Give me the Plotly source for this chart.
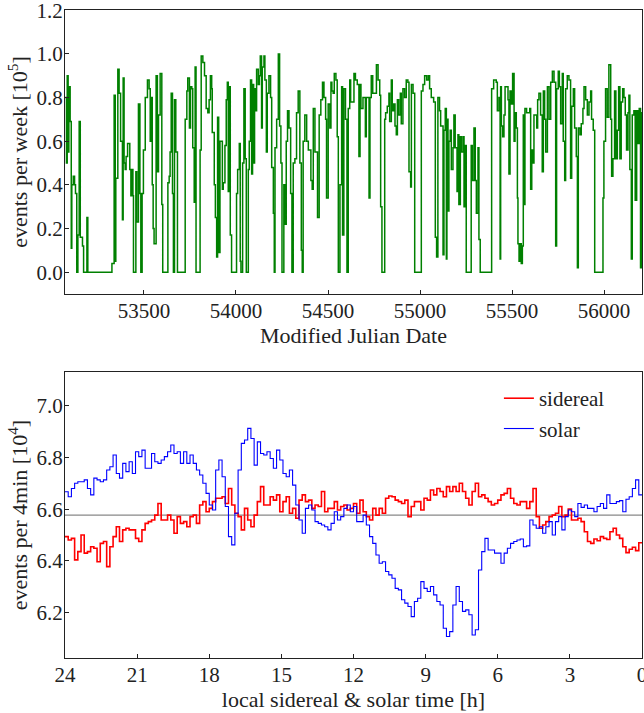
import plotly.graph_objects as go

# ---------------- top panel: weekly event rate vs MJD (step series) ----------------
mjd = [53072, 53079, 53083, 53088, 53092, 53099, 53105, 53108, 53116, 53123,
       53128, 53135, 53141, 53148, 53154, 53166, 53172, 53190, 53195, 53326,
       53338, 53344, 53347, 53358, 53365, 53373, 53383, 53387, 53392, 53398,
       53403, 53411, 53423, 53429, 53434, 53440, 53443, 53456, 53461, 53470,
       53478, 53483, 53490, 53497, 53507, 53519, 53528, 53534, 53539, 53545,
       53550, 53555, 53566, 53573, 53579, 53588, 53597, 53602, 53630, 53637,
       53642, 53648, 53655, 53660, 53666, 53673, 53682, 53724, 53733, 53738,
       53747, 53753, 53760, 53765, 53773, 53778, 53783, 53805, 53811, 53820,
       53829, 53838, 53847, 53854, 53861,
       53868, 53871, 53882, 53888, 53895, 53900, 53906, 53913, 53926, 53931,
       53940, 53947, 53953, 53958, 53964, 53969, 53976, 54003, 54009, 54018,
       54023, 54027, 54036, 54043, 54050, 54056, 54067, 54072, 54079, 54085,
       54090, 54096, 54101, 54107, 54112, 54121, 54127, 54132, 54139, 54143,
       54152, 54157, 54165, 54170, 54179, 54188, 54194, 54203, 54208, 54212,
       54221, 54230, 54237, 54244, 54250, 54260, 54266, 54273, 54280, 54288,
       54297, 54304, 54311, 54320, 54329, 54338, 54347, 54355, 54360, 54365,
       54374, 54384, 54393, 54407, 54414, 54420, 54429, 54443, 54452, 54461,
       54470, 54478, 54487, 54492, 54501, 54510, 54516, 54521, 54528, 54534,
       54543, 54550, 54556, 54565, 54574, 54579, 54586, 54595, 54603, 54610,
       54618, 54623, 54641, 54649, 54659, 54668, 54674, 54679, 54690, 54703,
       54708, 54723, 54728, 54735, 54743, 54763, 54772, 54781, 54786, 54793,
       54808, 54813, 54822, 54831, 54835, 54844, 54849, 54857, 54864, 54871,
       54877, 54884, 54893, 54898, 54907, 54916, 54925, 54934, 54940, 54949,
       54953, 54962, 54971, 55007, 55016, 55025, 55036, 55045, 55052, 55061,
       55074, 55083, 55090, 55097, 55106, 55112, 55125, 55130, 55137, 55143,
       55146, 55152, 55157, 55164, 55170, 55179, 55184, 55191, 55201, 55206,
       55211, 55219, 55224, 55233, 55239, 55246, 55251, 55278, 55284, 55293,
       55300, 55306, 55315, 55320, 55327, 55389, 55400, 55414,
       55420, 55429, 55435, 55438, 55442, 55449, 55456, 55462, 55478, 55483,
       55489, 55496, 55503, 55511, 55516, 55523, 55529, 55532, 55538, 55543,
       55550, 55556, 55561, 55567, 55570, 55579, 55596, 55601, 55607, 55612,
       55619, 55634, 55639, 55646, 55655, 55664, 55670, 55677, 55683, 55692,
       55701, 55710, 55719, 55728, 55737, 55742, 55751, 55757, 55764, 55773,
       55778, 55786, 55791, 55800, 55809, 55818, 55824, 55833, 55840, 55849,
       55855, 55860, 55869, 55876, 55885, 55891, 55900, 55909, 55918, 55927,
       55932, 55941, 55949, 55994, 55999, 56008, 56017, 56026, 56036, 56041,
       56048, 56057, 56064, 56072, 56079, 56086, 56093, 56101, 56108, 56115,
       56122, 56130, 56135, 56140, 56148, 56153, 56162, 56169, 56177, 56184,
       56191, 56198, 56202]
rate = [0.80, 0.50, 0.90, 0.55, 0.85, 0.69, 0.11, 0.40, 0.44, 0.40,
        0.36, 0.00, 0.17, 0.69, 0.16, 0.12, 0.00, 0.25, 0.00, 0.04,
        0.81, 0.05, 0.43, 0.93, 0.82, 0.60, 0.24, 0.89, 0.50, 0.47,
        0.53, 0.59, 0.47, 0.35, 0.47, 0.35, 0.00, 0.46, 0.23, 0.77,
        0.36, 0.00, 0.36, 0.56, 0.80, 0.88, 0.84, 0.60, 0.80, 0.40,
        0.20, 0.13, 0.90, 0.46, 0.72, 0.91, 0.31, 0.00, 0.41, 0.44,
        0.55, 0.82, 0.36, 0.00, 0.79, 0.55, 0.00, 0.70, 0.83, 0.89,
        0.66, 0.85, 0.84, 0.57, 0.32, 0.94, 0.00, 0.56, 0.99, 0.96,
        0.90, 0.75, 0.73, 0.79, 0.90,
        0.84, 0.64, 0.40, 0.25, 0.07, 0.71, 0.09, 0.60, 0.38, 0.41,
        0.58, 0.79, 0.87, 0.37, 0.85, 0.17, 0.00, 0.36, 0.47, 0.59,
        0.05, 0.00, 0.50, 0.84, 0.52, 0.00, 0.47, 0.60, 0.88, 0.45,
        0.86, 0.50, 0.84, 0.74, 0.93, 0.86, 0.90, 0.99, 0.66, 0.94,
        0.99, 0.88, 0.55, 0.82, 0.90, 0.80, 0.48, 0.27, 0.00, 0.57,
        0.70, 1.00, 0.67, 0.50, 0.00, 0.40, 0.22, 0.60, 0.74, 0.66,
        0.36, 0.00, 0.50, 0.52, 0.73, 0.83, 0.50, 0.10, 0.00, 0.60,
        0.72, 0.60, 0.56, 0.42, 0.38, 0.75, 0.55, 0.25, 0.72, 0.79,
        0.87, 0.80, 0.70, 0.34, 0.77, 0.66, 0.87, 0.83, 0.82, 0.91,
        0.88, 0.62, 0.00, 0.40, 0.85, 0.17, 0.84, 0.70, 0.00, 0.75,
        0.88, 0.78, 0.91, 0.88, 0.86, 0.53, 0.86, 0.75, 0.80, 0.62,
        0.80, 0.34, 0.80, 0.90, 0.82, 0.95, 0.88, 0.81, 0.30, 0.00,
        0.70, 0.73, 0.76, 0.82, 0.69, 0.88, 0.74, 0.77, 0.67, 0.63,
        0.79, 0.72, 0.82, 0.68, 0.84, 0.80, 0.88, 0.87, 0.46, 0.39,
        0.86, 0.82, 0.00, 0.83, 0.86, 0.90, 0.88, 0.90, 0.84, 0.80,
        0.78, 0.16, 0.07, 0.80, 0.74, 0.67, 0.08, 0.65, 0.75, 0.06,
        0.70, 0.28, 0.60, 0.65, 0.47, 0.57, 0.72, 0.57, 0.37, 0.63,
        0.31, 0.62, 0.55, 0.62, 0.30, 0.58, 0.00, 0.58, 0.42, 0.66,
        0.42, 0.27, 0.57, 0.15, 0.00, 0.84, 0.88, 0.87,
        0.74, 0.80, 0.06, 0.85, 0.67, 0.62, 0.72, 0.85, 0.79, 0.45,
        0.83, 0.77, 0.91, 0.60, 0.73, 0.66, 0.34, 0.13, 0.05, 0.13,
        0.04, 0.12, 0.72, 0.31, 0.75, 0.73, 0.75, 0.38, 0.56, 0.50,
        0.72, 0.66, 0.79, 0.82, 0.72, 0.46, 0.83, 0.70, 0.55, 0.85,
        0.70, 0.87, 0.92, 0.87, 0.12, 0.84, 0.92, 0.85, 0.68, 0.91,
        0.60, 0.42, 0.84, 0.90, 0.88, 0.43, 0.76, 0.84, 0.66, 0.53,
        0.02, 0.66, 0.63, 0.68, 0.75, 0.85, 0.79, 0.72, 0.78, 0.83,
        0.70, 0.65, 0.00, 0.34, 0.60, 0.84, 0.71, 0.95, 0.70, 0.44,
        0.52, 0.83, 0.52, 0.65, 0.85, 0.52, 0.78, 0.84, 0.80, 0.72,
        0.56, 0.73, 0.81, 0.47, 0.06, 0.72, 0.74, 0.33, 0.74, 0.59,
        0.75, 0.02, 0.73]
mjd_end = 56210

# ---------------- bottom panel: 8-min bins over 24 h, read left (24 h) to right (0 h) ----------------
solar = [6.667, 6.648, 6.680, 6.700, 6.706, 6.706, 6.713, 6.680, 6.655, 6.720,
         6.713, 6.706, 6.713, 6.751, 6.764, 6.809, 6.738, 6.720, 6.777, 6.745,
         6.783, 6.738, 6.822, 6.803, 6.828, 6.758, 6.758, 6.815, 6.783, 6.777,
         6.790, 6.803, 6.822, 6.848, 6.815, 6.822, 6.777, 6.822, 6.777, 6.809,
         6.777, 6.751, 6.732, 6.700, 6.661,
         6.616, 6.597, 6.751, 6.790, 6.725, 6.610, 6.494, 6.462, 6.584, 6.751,
         6.854, 6.867, 6.912, 6.873, 6.770, 6.860, 6.815, 6.809, 6.822, 6.796,
         6.758, 6.828, 6.790, 6.738, 6.725, 6.751, 6.693, 6.616, 6.558, 6.507,
         6.603, 6.616, 6.597, 6.552, 6.545, 6.539, 6.532, 6.520, 6.545, 6.590,
         6.558, 6.571, 6.603, 6.616, 6.590,
         6.610, 6.552, 6.552, 6.577, 6.539, 6.494, 6.468, 6.423, 6.391, 6.397,
         6.359, 6.346, 6.333, 6.294, 6.288, 6.250, 6.237, 6.224, 6.185, 6.243,
         6.256, 6.320, 6.294, 6.282, 6.301, 6.269, 6.243, 6.230, 6.140, 6.108,
         6.127, 6.230, 6.301, 6.243, 6.205, 6.211, 6.192, 6.114, 6.134, 6.365,
         6.436, 6.487, 6.442, 6.442, 6.430,
         6.430, 6.391, 6.430, 6.449, 6.468, 6.475, 6.481, 6.485, 6.455, 6.458,
         6.558, 6.539, 6.526, 6.532, 6.507, 6.532, 6.552, 6.500, 6.552, 6.571,
         6.520, 6.571, 6.597, 6.590, 6.571, 6.622, 6.607, 6.616, 6.603, 6.603,
         6.590, 6.610, 6.622, 6.603, 6.655, 6.622, 6.622, 6.629, 6.633, 6.590,
         6.638, 6.648, 6.680, 6.713, 6.655]
sidereal = [6.494, 6.481, 6.487, 6.404, 6.436, 6.500, 6.430, 6.436, 6.455, 6.449,
            6.397, 6.468, 6.475, 6.378, 6.455, 6.494, 6.532, 6.475, 6.520, 6.526,
            6.520, 6.520, 6.487, 6.475, 6.520, 6.545, 6.552, 6.558, 6.577, 6.622,
            6.558, 6.558, 6.577, 6.558, 6.507, 6.571, 6.545, 6.552, 6.532, 6.571,
            6.577, 6.545, 6.616, 6.629, 6.590,
            6.603, 6.629, 6.642, 6.642, 6.648, 6.622, 6.680, 6.616, 6.584, 6.571,
            6.520, 6.603, 6.558, 6.532, 6.577, 6.629, 6.687, 6.616, 6.616, 6.648,
            6.635, 6.655, 6.590, 6.629, 6.648, 6.584, 6.603, 6.565, 6.635, 6.655,
            6.629, 6.635, 6.603, 6.616, 6.610, 6.668, 6.590, 6.603, 6.603, 6.629,
            6.597, 6.610, 6.616, 6.597, 6.603,
            6.622, 6.584, 6.635, 6.590, 6.571, 6.558, 6.603, 6.577, 6.603, 6.584,
            6.642, 6.651, 6.648, 6.635, 6.629, 6.622, 6.635, 6.571, 6.610, 6.629,
            6.629, 6.597, 6.642, 6.635, 6.674, 6.655, 6.680, 6.668, 6.648, 6.687,
            6.668, 6.687, 6.668, 6.700, 6.668, 6.642, 6.616, 6.668, 6.700, 6.648,
            6.655, 6.642, 6.629, 6.616, 6.622,
            6.635, 6.655, 6.661, 6.680, 6.642, 6.622, 6.616, 6.629, 6.629, 6.603,
            6.629, 6.680, 6.571, 6.526, 6.539, 6.552, 6.571, 6.577, 6.584, 6.610,
            6.571, 6.577, 6.600, 6.558, 6.558, 6.565, 6.552, 6.513, 6.475, 6.468,
            6.485, 6.478, 6.494, 6.487, 6.483, 6.513, 6.526, 6.500, 6.487, 6.455,
            6.432, 6.445, 6.453, 6.440, 6.470]
mean_rate = 6.577

top_ticks = [53500, 54000, 54500, 55000, 55500, 56000]
hour_ticks = [24, 21, 18, 15, 12, 9, 6, 3, 0]

# step series
x_top = mjd + [mjd_end]
y_top = rate + [rate[-1]]
n = len(solar)
hours = [24 - 24 * i / n for i in range(n + 1)]

FONT = "Liberation Serif"
TXT = "#222222"
fig = go.Figure()
fig.add_trace(go.Scatter(x=x_top, y=y_top, mode="lines", line_shape="hv",
                         line=dict(color="#008000", width=1.5),
                         showlegend=False, xaxis="x", yaxis="y"))
fig.add_trace(go.Scatter(x=[24, 0], y=[mean_rate, mean_rate], mode="lines",
                         line=dict(color="#888888", width=1.2),
                         showlegend=False, xaxis="x2", yaxis="y2"))
fig.add_trace(go.Scatter(x=hours, y=sidereal + [sidereal[-1]], mode="lines",
                         line_shape="hv", line=dict(color="#ff0000", width=1.6),
                         name="sidereal", xaxis="x2", yaxis="y2"))
fig.add_trace(go.Scatter(x=hours, y=solar + [solar[-1]], mode="lines",
                         line_shape="hv", line=dict(color="#0000ff", width=1.1),
                         name="solar", xaxis="x2", yaxis="y2"))

axis_common = dict(showline=True, mirror=True, linecolor=TXT, linewidth=1,
                   ticks="inside", ticklen=4, tickcolor=TXT, showgrid=False,
                   zeroline=False, automargin=False, ticklabeloverflow="allow",
                   tickfont=dict(family=FONT, size=21, color=TXT))
xstand = -2
ystand = -3
title_font = dict(family=FONT, size=22, color=TXT)

fig.update_layout(
    width=644, height=713,
    margin=dict(l=65, r=2, t=10, b=55),
    paper_bgcolor="white", plot_bgcolor="white",
    font=dict(family=FONT, size=21, color=TXT),
    xaxis=dict(domain=[0, 1], anchor="y", range=[53071, 56206], tickvals=top_ticks,
               tickformat="d", ticklabelstandoff=xstand,
               title=dict(text="Modified Julian Date", standoff=2, font=title_font),
               **axis_common),
    yaxis=dict(domain=[0.5617, 1], anchor="x", range=[-0.1, 1.201], tick0=0, dtick=0.2,
               tickformat=".1f", ticklabelstandoff=ystand,
               title=dict(text="events per week [10<sup>5</sup>]", standoff=2,
                          font=title_font), **axis_common),
    xaxis2=dict(domain=[0, 1], anchor="y2", range=[24, 0], tickvals=hour_ticks,
                ticklabelstandoff=xstand,
                title=dict(text="local sidereal &amp; solar time [h]", standoff=2,
                           font=title_font), **axis_common),
    yaxis2=dict(domain=[0, 0.4414], anchor="x2", range=[6.025, 7.13],
                tickvals=[6.2, 6.4, 6.6, 6.8, 7.0], tickformat=".1f",
                ticklabelstandoff=ystand,
                title=dict(text="events per 4min [10<sup>4</sup>]", standoff=2,
                           font=title_font), **axis_common),
    legend=dict(x=0.752, y=0.432, xanchor="left", yanchor="top",
                bgcolor="rgba(0,0,0,0)", font=dict(family=FONT, size=21, color=TXT),
                itemwidth=30, tracegroupgap=0),
)

fig.write_html("out.html", config={"displayModeBar": False},
               post_script="document.body.style.margin='0px';")
